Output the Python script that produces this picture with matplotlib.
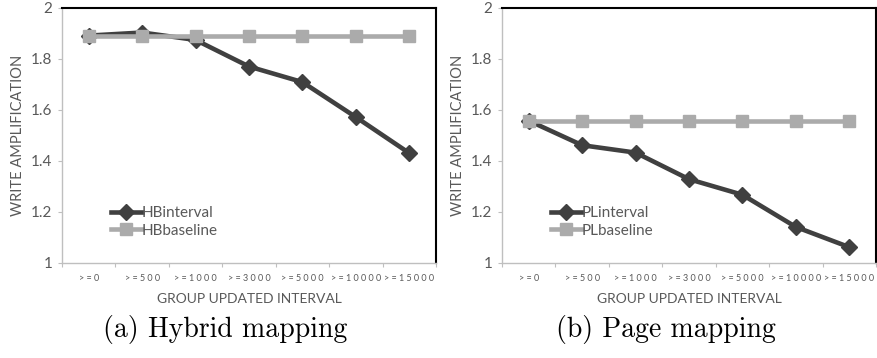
import matplotlib
matplotlib.use("Agg")
import matplotlib.pyplot as plt

# data
categories = [">=0", ">=500", ">=1000", ">=3000", ">=5000", ">=10000", ">=15000"]
hb_interval = [1.890, 1.902, 1.873, 1.769, 1.708, 1.571, 1.430]
hb_baseline = [1.890, 1.890, 1.890, 1.890, 1.890, 1.890, 1.890]
pl_interval = [1.557, 1.461, 1.432, 1.328, 1.267, 1.141, 1.062]
pl_baseline = [1.557, 1.557, 1.557, 1.557, 1.557, 1.557, 1.557]

W, H = 878, 358
fig = plt.figure(figsize=(W / 100, H / 100), dpi=100)

dark = "#404040"
light = "#ababab"
txt = "#595959"
font = "Lato"


def panel(left_px, s1, s2, n1, n2, caption, cap_x):
    ax = fig.add_axes([left_px / W, (H - 263) / H, 374 / W, 255.5 / H])
    x = list(range(len(categories)))
    ax.plot(x, s1, color=dark, lw=3.3, marker="D", ms=8, label=n1, zorder=2)
    ax.plot(x, s2, color=light, lw=3.3, marker="s", ms=9, label=n2, zorder=3)
    ax.set_xlim(-0.5, len(categories) - 0.5)
    ax.set_ylim(1, 2)
    ax.set_yticks([1, 1.2, 1.4, 1.6, 1.8, 2])
    ax.set_yticklabels(["1", "1.2", "1.4", "1.6", "1.8", "2"], fontname=font, fontsize=11, color=txt)
    ax.tick_params(axis="y", length=3, color="#bfbfbf", pad=4)
    # tick marks between categories, labels at the centres
    ax.set_xticks([i - 0.5 for i in range(len(categories) + 1)])
    ax.set_xticklabels([])
    ax.set_xticks(x, minor=True)
    ax.set_xticklabels([" ".join(c) for c in categories], minor=True,
                       fontname=font, fontsize=6.5, color=txt)
    ax.tick_params(axis="x", which="major", length=3, color="#bfbfbf")
    ax.tick_params(axis="x", which="minor", length=0, pad=8)
    for s in ["left", "bottom"]:
        ax.spines[s].set_color("#bfbfbf")
        ax.spines[s].set_linewidth(1)
    for s in ["top", "right"]:
        ax.spines[s].set_color("black")
        ax.spines[s].set_linewidth(1.5)
    ax.set_ylabel("WRITE AMPLIFICATION", fontname=font, fontsize=10.5, color=txt, labelpad=4)
    ax.set_xlabel("GROUP UPDATED INTERVAL", fontname=font, fontsize=10, color=txt, labelpad=7)
    ax.legend(loc="lower left", bbox_to_anchor=(0.115, 0.075), frameon=False,
              prop={"family": font, "size": 11}, labelcolor=txt,
              handlelength=2.0, handletextpad=0.0, borderaxespad=0, labelspacing=0.25)
    fig.text(cap_x / W, 1 - 330 / H, caption, ha="center", va="center",
             fontname="cmr10", fontsize=20)
    return ax


panel(62, hb_interval, hb_baseline, "HBinterval", "HBbaseline", "(a) Hybrid mapping", 225)
panel(502, pl_interval, pl_baseline, "PLinterval", "PLbaseline", "(b) Page mapping", 666)

fig.savefig("out.png", dpi=100)
